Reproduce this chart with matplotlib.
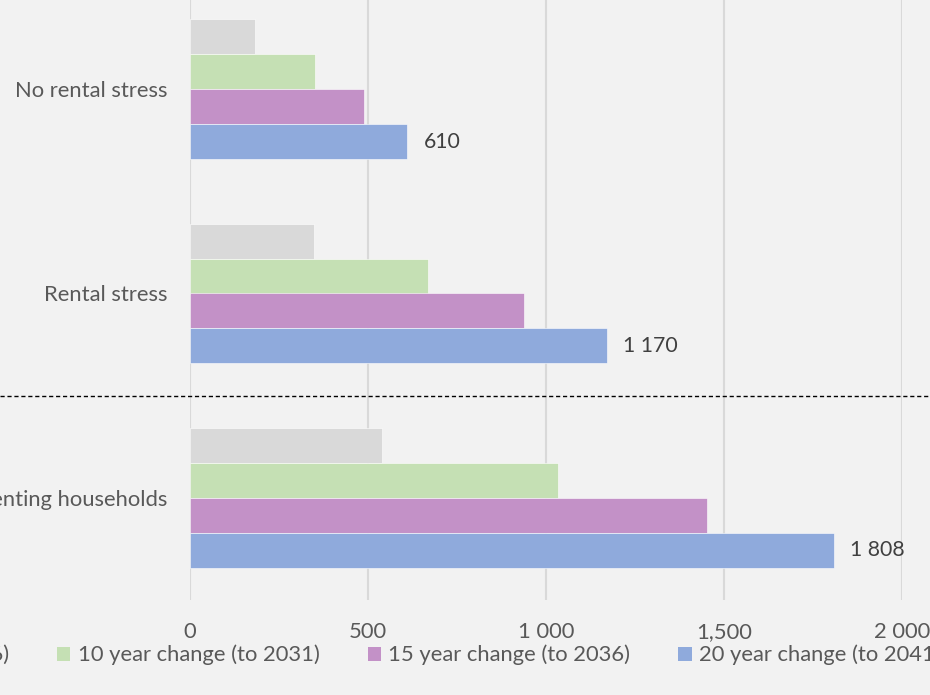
import numpy as np
import matplotlib.pyplot as plt
from matplotlib.patches import Patch
from matplotlib.ticker import FixedLocator
import matplotlib.transforms as mtransforms

plt.rcParams['font.family'] = ['Lato', 'DejaVu Sans']

categories = ["No rental stress", "Rental stress", "Total renting households"]
series_names = ["5 year change (to 2026)", "10 year change (to 2031)",
                "15 year change (to 2036)", "20 year change (to 2041)"]
change_5yr = [183, 348, 539]
change_10yr = [351, 669, 1034]
change_15yr = [490, 937, 1451]
change_20yr = [610, 1170, 1808]
blue_labels = ["610", "1 170", "1 808"]

xticks = [0, 500, 1000, 1500, 2000]
xtick_labels = ["0", "500", "1 000", "1,500", "2 000"]

colors = ["#D9D9D9", "#C5E0B4", "#C391C7", "#8FAADC"]
text_col = "#595959"
bg = "#F2F2F2"
fs = 15.8

fig = plt.figure(figsize=(9.3, 6.95), dpi=100, facecolor=bg)
ax = fig.add_axes([190 / 930, 95 / 695, 712 / 930, 613 / 695], facecolor=bg)

y = np.arange(len(categories))
h = 0.171
all_series = [change_5yr, change_10yr, change_15yr, change_20yr]
for i, vals in enumerate(all_series):
    offs = (i - 1.5) * h
    ax.barh(y + offs, vals, height=h, color=colors[i], edgecolor="white",
            linewidth=0.4, zorder=3)

# value labels on the 20 year bars
for yi, v, lab in zip(y, change_20yr, blue_labels):
    ax.text(v + 47, yi + 1.5 * h, lab, va="center", ha="left",
            fontsize=fs - 0.5, color="#404040", zorder=4)

ax.set_xlim(0, 2000)
ax.set_ylim(2.5, -0.5)
ax.xaxis.set_major_locator(FixedLocator(xticks))
ax.set_xticklabels(xtick_labels)
ax.set_yticks(y)
ax.set_yticklabels(categories)
ax.tick_params(axis="both", length=0, labelsize=fs, labelcolor=text_col)
ax.tick_params(axis="y", pad=16.5)
ax.tick_params(axis="x", pad=16)
ax.grid(axis="x", color="#D9D9D9", linewidth=1.5, zorder=0)
for s in ax.spines.values():
    s.set_visible(False)

# dashed separator between the breakdown and the total
trans = mtransforms.blended_transform_factory(fig.transFigure, ax.transData)
ax.plot([0, 1], [1.5, 1.5], transform=trans, color="black", linestyle=(0, (3, 2)),
        linewidth=1, clip_on=False, zorder=5)

handles = [Patch(facecolor=c, edgecolor="none") for c in colors]
fig.legend(handles, series_names, loc="center", bbox_to_anchor=(350 / 930, 1 - 655 / 695),
           ncol=4, frameon=False, fontsize=fs, labelcolor=text_col,
           handlelength=0.6, handleheight=0.6, handletextpad=0.33, columnspacing=2.2)

fig.savefig("out.png", dpi=100, facecolor=bg)
